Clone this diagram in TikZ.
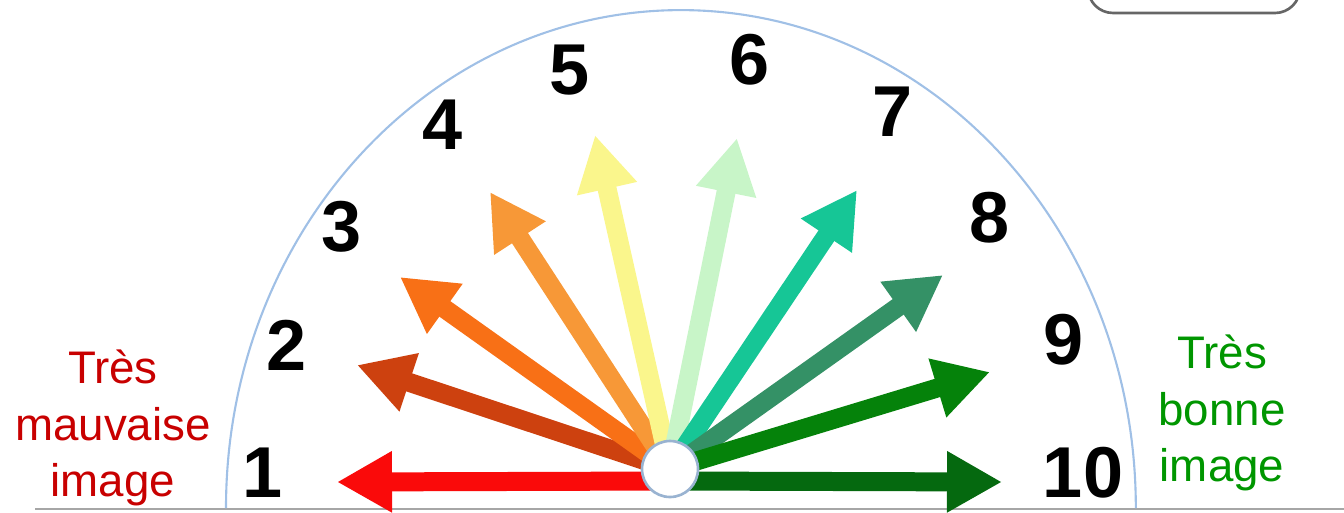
\documentclass[tikz,border=0pt]{standalone}
\usepackage{fontspec}
\setmainfont{Liberation Sans}
\usepackage{xcolor}
\usepackage{tikz}
\usetikzlibrary{arrows.meta}

\definecolor{ray1}{RGB}{250,10,10}
\definecolor{ray2}{RGB}{205,65,15}
\definecolor{ray3}{RGB}{248,112,22}
\definecolor{ray4}{RGB}{247,152,55}
\definecolor{ray5}{RGB}{250,246,140}
\definecolor{ray6}{RGB}{200,245,200}
\definecolor{ray7}{RGB}{22,198,150}
\definecolor{ray8}{RGB}{52,145,102}
\definecolor{ray9}{RGB}{5,130,10}
\definecolor{ray10}{RGB}{5,105,15}
\definecolor{dialline}{RGB}{160,192,230}
\definecolor{badred}{RGB}{200,0,0}
\definecolor{goodgreen}{RGB}{0,150,0}

\begin{document}
\begin{tikzpicture}[x=0.02cm, y=0.02cm,
        ray/.style={line width=0.38cm, -{Triangle[length=1.1cm, width=1.15cm]}},
        num/.style={font=\fontsize{41}{48}\selectfont\bfseries, inner sep=0pt},
        side/.style={font=\fontsize{26}{31.9}\selectfont, align=center, inner sep=0pt, anchor=north},
        hub/.style={circle, draw=dialline!80!gray, line width=1.5pt, fill=white, minimum size=1.12cm, inner sep=0pt}]

    \useasboundingbox (0,0) rectangle (1344,512);

    % base line and dial
    \draw[gray!70, line width=1.2pt] (35,3) -- (1344,3);
    \draw[dialline, line width=1.2pt] (226,4) arc[start angle=180, end angle=0, x radius=9.1cm, y radius=9.96cm];

    % box cut by the top edge
    \begin{scope}
        \clip (0,0) rectangle (1344,512);
        \draw[gray!80!black, line width=1.5pt, rounded corners=0.5cm] (1088,499) rectangle (1300,580);
    \end{scope}

    % arrows
    \coordinate (o) at (670,43);
    \coordinate (o1) at (670,31);
    \foreach \k/\x/\y in {1/337/30, 2/357/147, 3/400/235, 4/490/320, 5/595/377,
                          6/737/374, 7/857/322, 8/943/237, 9/990/140, 10/1002/30}
        \coordinate (t\k) at (\x,\y);

    \draw[ray, ray1] (o1) -- (t1);
    \draw[ray, ray10] (o1) -- (t10);
    \foreach \k in {2,...,9}
        \draw[ray, ray\k] (o) -- (t\k);

    \node[hub] (hub) at (o) {};

    % scale numbers
    \foreach \k/\x/\y in {1/263/39, 2/287/167, 3/342/285, 4/443/387, 5/570/442,
                          6/750/452, 7/893/400, 8/990/294, 9/1064/172, 10/1083/39}
        \node[num] (n\k) at (\x,\y) {\k};

    % end labels
    \node[side, text=badred] (bad) at (113,162) {Très\\mauvaise\\image};
    \node[side, text=goodgreen] (good) at (1222,177) {Très\\bonne\\image};
\end{tikzpicture}
\end{document}
